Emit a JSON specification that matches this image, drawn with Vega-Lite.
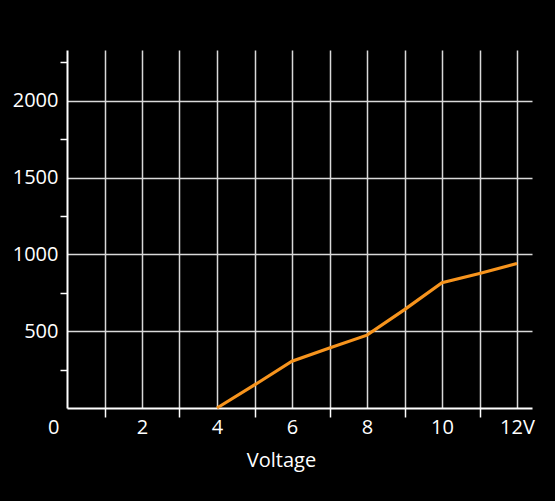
{
  "$schema": "https://vega.github.io/schema/vega-lite/v6.json",
  "width": 465,
  "height": 358,
  "autosize": {"type": "none"},
  "padding": {"left": 67, "top": 50, "right": 23, "bottom": 93},
  "background": "black",
  "config": {
    "view": {"stroke": null},
    "font": "Open Sans"
  },
  "data": {
    "values": [
      {"voltage": 4, "value": 0},
      {"voltage": 5, "value": 150},
      {"voltage": 6, "value": 305},
      {"voltage": 7, "value": 390},
      {"voltage": 8, "value": 474},
      {"voltage": 9, "value": 640},
      {"voltage": 10, "value": 815},
      {"voltage": 11, "value": 875},
      {"voltage": 12, "value": 940}
    ]
  },
  "mark": {"type": "line", "color": "#f7941d", "strokeWidth": 3.2},
  "encoding": {
    "x": {
      "field": "voltage",
      "type": "quantitative",
      "scale": {"domain": [0, 12.4], "nice": false, "zero": false},
      "axis": {
        "title": "Voltage",
        "titleColor": "white",
        "titleFontSize": 20,
        "titleFontWeight": "normal",
        "titleX": 214,
        "titleY": 52,
        "titleBaseline": "middle",
        "values": [0, 1, 2, 3, 4, 5, 6, 7, 8, 9, 10, 11, 12],
        "labelExpr": "datum.value == 0 ? '0' : datum.value == 12 ? '12V' : datum.value % 2 == 0 ? datum.label : ''",
        "labelColor": "white",
        "labelFontSize": 20,
        "labelPadding": 0,
        "labelFlush": false,
        "labelOverlap": false,
        "labelAlign": {"condition": {"test": "datum.value == 0", "value": "right"}, "value": "center"},
        "labelOffset": {"condition": {"test": "datum.value == 0", "value": -8}, "value": 0},
        "domainColor": "white",
        "domainWidth": 2,
        "tickColor": "white",
        "tickWidth": 1.5,
        "tickSize": 9,
        "tickOpacity": {"condition": {"test": "datum.value % 2 == 1", "value": 1}, "value": 0},
        "grid": true,
        "gridColor": "#d9d9d9",
        "gridWidth": 1.5,
        "gridOpacity": {"condition": {"test": "datum.value > 0", "value": 1}, "value": 0}
      }
    },
    "y": {
      "field": "value",
      "type": "quantitative",
      "scale": {"domain": [0, 2330], "nice": false},
      "axis": {
        "title": null,
        "values": [0, 250, 500, 750, 1000, 1250, 1500, 1750, 2000, 2250],
        "format": "d",
        "labelExpr": "datum.value % 500 == 0 && datum.value > 0 ? datum.label : ''",
        "labelColor": "white",
        "labelFontSize": 20,
        "labelPadding": 2,
        "labelBaseline": "middle",
        "labelOverlap": false,
        "domainColor": "white",
        "domainWidth": 2,
        "tickColor": "white",
        "tickWidth": 1.5,
        "tickSize": 7,
        "tickOpacity": {"condition": {"test": "datum.value % 500 == 250", "value": 1}, "value": 0},
        "grid": true,
        "gridColor": "#d9d9d9",
        "gridWidth": 1.5,
        "gridOpacity": {"condition": {"test": "datum.value % 500 == 0 && datum.value > 0", "value": 1}, "value": 0}
      }
    }
  }
}
